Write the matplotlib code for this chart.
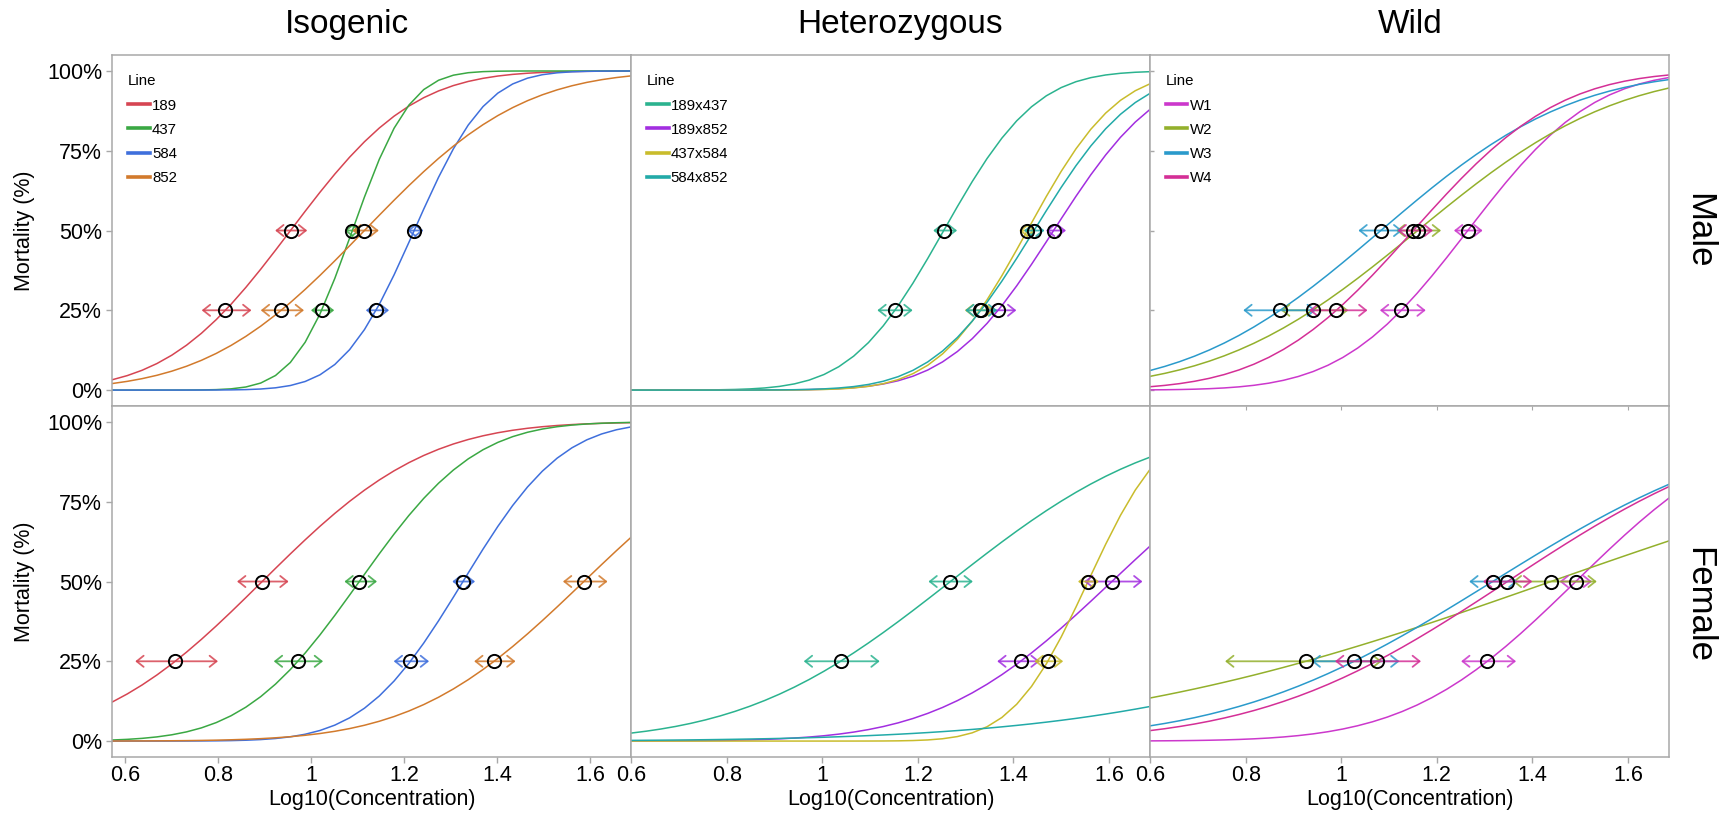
import math
import numpy as np
import matplotlib
matplotlib.use("Agg")
import matplotlib.pyplot as plt
from matplotlib.lines import Line2D

plt.rcParams['font.family'] = ['Liberation Sans', 'DejaVu Sans']

# probit fits: LC25 / LC50 on log10 scale, with confidence limits
iso_lines = ["189", "437", "584", "852"]
iso_colors = ["#d64552", "#3aa843", "#3f6fdc", "#d27a2c"]
iso_male_lc50 = [0.955, 1.088, 1.221, 1.114]
iso_male_lc50_ci = [(0.922, 0.991), (1.071, 1.105), (1.206, 1.241), (1.088, 1.145)]
iso_male_lc25 = [0.815, 1.022, 1.139, 0.935]
iso_male_lc25_ci = [(0.764, 0.871), (0.999, 1.049), (1.117, 1.167), (0.891, 0.984)]
iso_female_lc50 = [0.894, 1.103, 1.326, 1.586]
iso_female_lc50_ci = [(0.840, 0.951), (1.071, 1.141), (1.303, 1.352), (1.541, 1.637)]
iso_female_lc25 = [0.707, 0.971, 1.213, 1.393]
iso_female_lc25_ci = [(0.621, 0.799), (0.919, 1.025), (1.177, 1.253), (1.350, 1.439)]

het_lines = ["189x437", "189x852", "437x584", "584x852"]
het_colors = ["#2bb38f", "#a22ee0", "#c9bc2c", "#22aaa8"]
het_male_lc50 = [1.254, 1.484, 1.429, 1.443]
het_male_lc50_ci = [(1.232, 1.282), (1.468, 1.510), (1.412, 1.446), (1.422, 1.465)]
het_male_lc25 = [1.152, 1.368, 1.330, 1.332]
het_male_lc25_ci = [(1.115, 1.189), (1.345, 1.406), (1.298, 1.360), (1.299, 1.366)]
het_female_lc50 = [1.268, 1.606, 1.556, 2.51]
het_female_lc50_ci = [(1.222, 1.315), (1.548, 1.670), (1.535, 1.579), (np.nan, np.nan)]
het_female_lc25 = [1.038, 1.415, 1.472, 2.06]
het_female_lc25_ci = [(0.961, 1.120), (1.366, 1.455), (1.444, 1.504), (np.nan, np.nan)]

wild_lines = ["W1", "W2", "W3", "W4"]
wild_colors = ["#cc38cc", "#93b02c", "#2a9acb", "#d42f96"]
wild_male_lc50 = [1.265, 1.160, 1.083, 1.151]
wild_male_lc50_ci = [(1.236, 1.296), (1.115, 1.209), (1.036, 1.128), (1.118, 1.192)]
wild_male_lc25 = [1.126, 0.940, 0.872, 0.990]
wild_male_lc25_ci = [(1.081, 1.177), (0.874, 1.015), (0.795, 0.947), (0.933, 1.055)]
wild_female_lc50 = [1.491, 1.439, 1.317, 1.348]
wild_female_lc50_ci = [(1.457, 1.525), (1.359, 1.535), (1.268, 1.369), (1.297, 1.400)]
wild_female_lc25 = [1.306, 0.926, 1.027, 1.074]
wild_female_lc25_ci = [(1.251, 1.366), (0.757, 1.085), (0.938, 1.122), (0.987, 1.167)]

col_titles = ["Isogenic", "Heterozygous", "Wild"]
row_titles = ["Male", "Female"]
x_limits = [(0.572, 1.688), (0.6, 1.686), (0.6, 1.686)]
x_ticks = [0.6, 0.8, 1.0, 1.2, 1.4, 1.6]
x_ticklabels = ["0.6", "0.8", "1", "1.2", "1.4", "1.6"]
y_ticks = [0, 25, 50, 75, 100]
y_ticklabels = ["0%", "25%", "50%", "75%", "100%"]

columns = [
    (iso_lines, iso_colors,
     [(iso_male_lc25, iso_male_lc25_ci, iso_male_lc50, iso_male_lc50_ci),
      (iso_female_lc25, iso_female_lc25_ci, iso_female_lc50, iso_female_lc50_ci)]),
    (het_lines, het_colors,
     [(het_male_lc25, het_male_lc25_ci, het_male_lc50, het_male_lc50_ci),
      (het_female_lc25, het_female_lc25_ci, het_female_lc50, het_female_lc50_ci)]),
    (wild_lines, wild_colors,
     [(wild_male_lc25, wild_male_lc25_ci, wild_male_lc50, wild_male_lc50_ci),
      (wild_female_lc25, wild_female_lc25_ci, wild_female_lc50, wild_female_lc50_ci)]),
]

Z25 = 0.6744898
erf = np.vectorize(math.erf)


def probit_curve(x, lc25, lc50):
    sigma = (lc50 - lc25) / Z25
    return 50.0 * (1.0 + erf((x - lc50) / (sigma * math.sqrt(2.0))))


frame_col = "#a8a8a8"
fig = plt.figure(figsize=(17.3, 8.14), dpi=100)
axes = fig.subplots(2, 3, sharey=True, gridspec_kw=dict(wspace=0, hspace=0))
fig.subplots_adjust(left=0.065, right=0.9647, top=0.9324, bottom=0.070)

for c, (names, colors, rows) in enumerate(columns):
    for r, (lc25, lc25_ci, lc50, lc50_ci) in enumerate(rows):
        ax = axes[r, c]
        x0, x1 = x_limits[c]
        xs = np.linspace(x0, x1, 36)
        for i in range(len(names)):
            ax.plot(xs, probit_curve(xs, lc25[i], lc50[i]), color=colors[i], lw=1.1, zorder=2)
        for i in range(len(names)):
            for lvl, ci in ((25, lc25_ci[i]), (50, lc50_ci[i])):
                if np.isnan(ci[0]):
                    continue
                ax.annotate("", xy=(ci[1], lvl), xytext=(ci[0], lvl),
                            arrowprops=dict(arrowstyle="<->,head_length=0.5,head_width=0.4",
                                            color=colors[i], lw=1.3, alpha=0.85,
                                            shrinkA=0, shrinkB=0, mutation_scale=10),
                            zorder=3)
            ax.plot([lc25[i], lc50[i]], [25, 50], ls="none", marker="o", ms=9.5,
                    mfc="none", mec="black", mew=1.4, zorder=4)

        ax.set_xlim(x0, x1)
        ax.set_ylim(-5, 105)
        for sp in ax.spines.values():
            sp.set_color(frame_col)
            sp.set_linewidth(1.1)
        ax.tick_params(colors=frame_col, labelcolor="black", labelsize=15.5, length=4, width=1)
        ax.set_xticks(x_ticks)
        if r == 0:
            ax.tick_params(axis="x", bottom=False, labelbottom=False)
            ax.legend(handles=[Line2D([], [], color=col, lw=2.6) for col in colors],
                      labels=names, title="Line", loc="upper left",
                      bbox_to_anchor=(0.03, 0.945), frameon=False, fontsize=10.8,
                      title_fontsize=10.8, handlelength=1.45, handletextpad=0.15,
                      labelspacing=0.68, alignment="left", borderaxespad=0, borderpad=0)
        else:
            ax.set_xticklabels(x_ticklabels)
            ax.tick_params(axis="x", pad=2)
            ax.set_xlabel("Log10(Concentration)", fontsize=15.5)
            ax.xaxis.set_label_coords(0.5, -0.09)
        if c == 0:
            ax.set_yticks(y_ticks)
            ax.set_yticklabels(y_ticklabels)
            ax.set_ylabel("Mortality (%)", fontsize=15.5)
            ax.yaxis.set_label_coords(-0.15, 0.5)
        else:
            ax.tick_params(axis="y", left=False, labelleft=False)

# faint inner ticks on the wild panels
axes[0, 2].tick_params(axis="y", left=True, direction="in", length=3)
top_ax = axes[1, 2].secondary_xaxis("top")
top_ax.set_xticks(x_ticks[1:])
top_ax.tick_params(direction="in", length=3, colors=frame_col, labeltop=False)
top_ax.spines["top"].set_visible(False)

# column and row headings
title_x = [0.2003, 0.5204, 0.8150]
for c, title in enumerate(col_titles):
    fig.text(title_x[c], 0.9705, title, ha="center", va="center", fontsize=24)
row_y = [0.7168, 0.2572]
for r, title in enumerate(row_titles):
    fig.text(0.982, row_y[r], title, ha="center", va="center",
             rotation=270, fontsize=25)

fig.savefig("out.png", dpi=100)
